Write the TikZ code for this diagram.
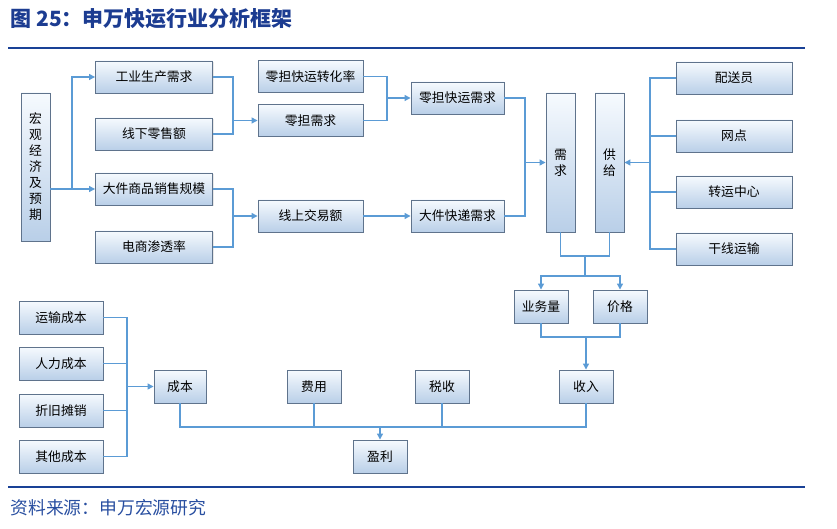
\documentclass[tikz,border=0pt]{standalone}
\usepackage{fontspec}
\setmainfont{Noto Sans CJK SC}
\usepackage{xcolor}
\usetikzlibrary{arrows.meta, shadows}

\definecolor{titleblue}{RGB}{28,60,145}
\definecolor{srcblue}{RGB}{40,78,160}
\definecolor{rulec}{RGB}{25,65,150}
\definecolor{linkc}{RGB}{91,155,213}
\definecolor{boxline}{RGB}{95,115,140}
\definecolor{boxtop}{RGB}{246,250,254}
\definecolor{boxbot}{RGB}{185,207,232}

\tikzset{
  box/.style={draw=boxline, line width=0.9pt, top color=boxtop, bottom color=boxbot,
    inner sep=0pt, align=center, font=\fontsize{12.8}{16}\selectfont,
    drop shadow={opacity=0.18, shadow xshift=1pt, shadow yshift=-1pt}},
  conn/.style={draw=linkc, line width=1.2pt},
  arr/.style={conn, -{Triangle[width=6pt,length=6pt]}}
}

\begin{document}
\begin{tikzpicture}[x=1pt, y=-1pt]
       \useasboundingbox (0,0) rectangle (837,529);
       % title and rules
       \node[anchor=west, text=titleblue, font=\bfseries\fontsize{21}{21}\selectfont] (title) at (7,19) {图 25：申万快运行业分析框架};
       \draw[rulec, line width=2pt] (8,48) -- (805,48);
       \draw[rulec, line width=2pt] (8,487) -- (805,487);
       \node[anchor=west, text=srcblue, font=\fontsize{17.8}{18}\selectfont] (source) at (7,508) {资料来源：申万宏源研究};

       % demand side
       \node[box, minimum width=29pt, minimum height=148pt] (macro) at (35.5,167) {宏\\观\\经\\济\\及\\预\\期};
       \node[box, minimum width=117pt, minimum height=32pt] (gongye) at (154,77) {工业生产需求};
       \node[box, minimum width=117pt, minimum height=32pt] (xianxia) at (154,134) {线下零售额};
       \node[box, minimum width=117pt, minimum height=32pt] (dajian) at (154,189) {大件商品销售规模};
       \node[box, minimum width=117pt, minimum height=32pt] (dianshang) at (154,247) {电商渗透率};
       \node[box, minimum width=105pt, minimum height=32pt] (zhuanhua) at (310.5,76.5) {零担快运转化率};
       \node[box, minimum width=105pt, minimum height=32pt] (lingdan) at (310.5,120.5) {零担需求};
       \node[box, minimum width=105pt, minimum height=32pt] (xianshang) at (310.5,216) {线上交易额};
       \node[box, minimum width=93pt, minimum height=32pt] (ldky) at (457.5,98) {零担快运需求};
       \node[box, minimum width=93pt, minimum height=32pt] (djkd) at (457.5,216) {大件快递需求};
       \node[box, minimum width=29pt, minimum height=139pt] (xuqiu) at (560.5,162.5) {需\\求};
       \node[box, minimum width=29pt, minimum height=139pt] (gongji) at (609.5,162.5) {供\\给};

       % supply side
       \node[box, minimum width=116pt, minimum height=32pt] (peisong) at (734,78) {配送员};
       \node[box, minimum width=116pt, minimum height=32pt] (wangdian) at (734,136) {网点};
       \node[box, minimum width=116pt, minimum height=32pt] (zhuanyun) at (734,192) {转运中心};
       \node[box, minimum width=116pt, minimum height=32pt] (ganxian) at (734,249) {干线运输};

       % revenue and profit
       \node[box, minimum width=54pt, minimum height=33pt] (yewu) at (541,306.5) {业务量};
       \node[box, minimum width=54pt, minimum height=33pt] (jiage) at (620,306.5) {价格};
       \node[box, minimum width=54pt, minimum height=33pt] (shouru) at (586,386.5) {收入};
       \node[box, minimum width=54pt, minimum height=33pt] (shuishou) at (442,386.5) {税收};
       \node[box, minimum width=54pt, minimum height=33pt] (feiyong) at (314,386.5) {费用};
       \node[box, minimum width=52pt, minimum height=33pt] (chengben) at (180,386.5) {成本};
       \node[box, minimum width=54pt, minimum height=33pt] (yingli) at (380,456.5) {盈利};
       \node[box, minimum width=84pt, minimum height=33pt] (yunshu) at (61,317.5) {运输成本};
       \node[box, minimum width=84pt, minimum height=33pt] (renli) at (61,363.5) {人力成本};
       \node[box, minimum width=84pt, minimum height=33pt] (zhejiu) at (61,410.5) {折旧摊销};
       \node[box, minimum width=84pt, minimum height=33pt] (qita) at (61,456.5) {其他成本};

       % junctions
       \coordinate (jm) at (72,189);
       \coordinate (j1) at (233,120.5);
       \coordinate (j2) at (387,98);
       \coordinate (j3) at (233,216);
       \coordinate (j4) at (525,162.5);
       \coordinate (js) at (650,162.5);
       \coordinate (jx) at (585,256);
       \coordinate (jy) at (585,276);
       \coordinate (jr) at (586,337);
       \coordinate (jp) at (380,427);
       \coordinate (jc) at (127,386.5);

       \draw[conn] (macro.east |- jm) -- (jm);
       \draw[arr] (jm) -- (dajian.west);
       \draw[arr] (jm) |- (gongye.west);
       \draw[conn] (gongye.east) -| (j1) |- (xianxia.east);
       \draw[arr] (j1) -- (lingdan.west);
       \draw[conn] (zhuanhua.east) -| (j2) |- (lingdan.east);
       \draw[arr] (j2) -- (ldky.west);
       \draw[conn] (dajian.east) -| (j3) |- (dianshang.east);
       \draw[arr] (j3) -- (xianshang.west);
       \draw[arr] (xianshang.east) -- (djkd.west);
       \draw[conn] (ldky.east) -| (j4) |- (djkd.east);
       \draw[arr] (j4) -- (xuqiu.west);
       \draw[conn] (peisong.west) -| (js) |- (ganxian.west);
       \draw[conn] (wangdian.west) -- (wangdian.west -| js);
       \draw[conn] (zhuanyun.west) -- (zhuanyun.west -| js);
       \draw[arr] (js) -- (gongji.east);
       \draw[conn] (xuqiu.south) |- (jx) -| (gongji.south);
       \draw[arr] (jx) -- (jy) -| (yewu.north);
       \draw[arr] (jy) -| (jiage.north);
       \draw[conn] (yewu.south) |- (jr) -| (jiage.south);
       \draw[arr] (jr) -- (shouru.north);
       \draw[conn] (chengben.south) |- (jp) -| (shouru.south);
       \draw[conn] (feiyong.south) -- (feiyong.south |- jp);
       \draw[conn] (shuishou.south) -- (shuishou.south |- jp);
       \draw[arr] (jp) -- (yingli.north);
       \draw[conn] (yunshu.east) -| (jc) |- (qita.east);
       \draw[conn] (renli.east) -- (renli.east -| jc);
       \draw[conn] (zhejiu.east) -- (zhejiu.east -| jc);
       \draw[arr] (jc) -- (chengben.west);
\end{tikzpicture}
\end{document}
